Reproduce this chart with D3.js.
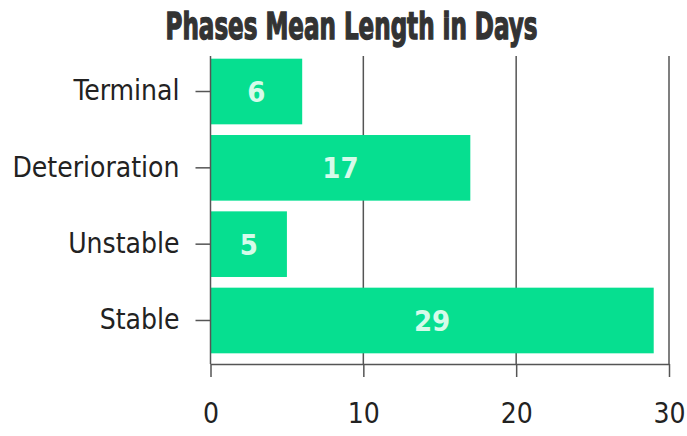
<!DOCTYPE html>
<html>
<head>
<meta charset="utf-8">
<script src="https://cdn.jsdelivr.net/npm/d3@7"></script>
<style>
  html, body { margin: 0; padding: 0; background: #fff; }
  svg { display: block; }
</style>
</head>
<body>
<svg id="chart" width="687" height="436"></svg>
<script>
const titleText = "Phases Mean Length in Days";
const categories = ["Terminal", "Deterioration", "Unstable", "Stable"];
const values = [6, 17, 5, 29];
const xTicks = [0, 10, 20, 30];

const svg = d3.select("#chart");
const fontFamily = "'DejaVu Sans Condensed', 'DejaVu Sans', sans-serif";
const barColor = "#06df90";
const lineColor = "#555";

const x = d3.scaleLinear().domain([0, 30]).range([210.5, 669]);
const y = d3.scaleBand().domain(categories).range([48, 364]).paddingInner(0.14).paddingOuter(0.14);
const gridTop = 56, gridBottom = 364;

// Title (horizontally compressed to mimic a condensed display face)
const titleWidth = 372;
const title = svg.append("text")
  .attr("text-anchor", "middle")
  .attr("font-family", fontFamily)
  .attr("font-weight", "bold")
  .attr("font-size", 38)
  .attr("fill", "#333")
  .attr("stroke", "#333")
  .attr("stroke-width", 1.4)
  .text(titleText);
const natural = title.node().getComputedTextLength();
const sx = titleWidth / natural;
title.attr("transform", `translate(351.5,39) scale(${sx},1)`);

// Grid lines
svg.append("g").selectAll("line")
  .data(xTicks.filter(d => d > 0))
  .join("line")
  .attr("x1", d => x(d)).attr("x2", d => x(d))
  .attr("y1", gridTop).attr("y2", gridBottom)
  .attr("stroke", lineColor).attr("stroke-width", 1.5);

// Bars
svg.append("g").selectAll("rect")
  .data(categories)
  .join("rect")
  .attr("x", x(0))
  .attr("y", d => y(d))
  .attr("width", (d, i) => x(values[i]) - x(0))
  .attr("height", y.bandwidth())
  .attr("fill", barColor);

// Bar labels
svg.append("g").selectAll("text")
  .data(categories)
  .join("text")
  .attr("x", (d, i) => (x(0) + x(values[i])) / 2)
  .attr("y", d => y(d) + y.bandwidth() / 2)
  .attr("dy", "0.36em")
  .attr("text-anchor", "middle")
  .attr("font-family", fontFamily)
  .attr("font-weight", "bold")
  .attr("font-size", 29)
  .attr("fill", "#d6fbea")
  .text((d, i) => values[i]);

// Y axis
const yAxis = svg.append("g")
  .attr("transform", `translate(${x(0)},0)`)
  .call(d3.axisLeft(y).tickSize(15).tickPadding(16).tickSizeOuter(0));
yAxis.select(".domain").remove();
yAxis.append("line")
  .attr("x1", 0).attr("x2", 0).attr("y1", gridTop).attr("y2", gridBottom)
  .attr("stroke", lineColor).attr("stroke-width", 1.5);
yAxis.selectAll(".tick line").attr("stroke", lineColor).attr("stroke-width", 1.5);
yAxis.selectAll(".tick text")
  .attr("font-family", fontFamily)
  .attr("font-size", 28)
  .attr("fill", "#222");

// X axis
const xAxis = svg.append("g")
  .attr("transform", `translate(0,${gridBottom})`)
  .call(d3.axisBottom(x).tickValues(xTicks).tickSize(13).tickPadding(26).tickSizeOuter(0));
xAxis.select(".domain").attr("stroke", lineColor).attr("stroke-width", 1.5);
xAxis.selectAll(".tick line").attr("stroke", lineColor).attr("stroke-width", 1.5);
xAxis.selectAll(".tick text")
  .attr("font-family", fontFamily)
  .attr("font-size", 28)
  .attr("fill", "#222");
</script>
</body>
</html>
